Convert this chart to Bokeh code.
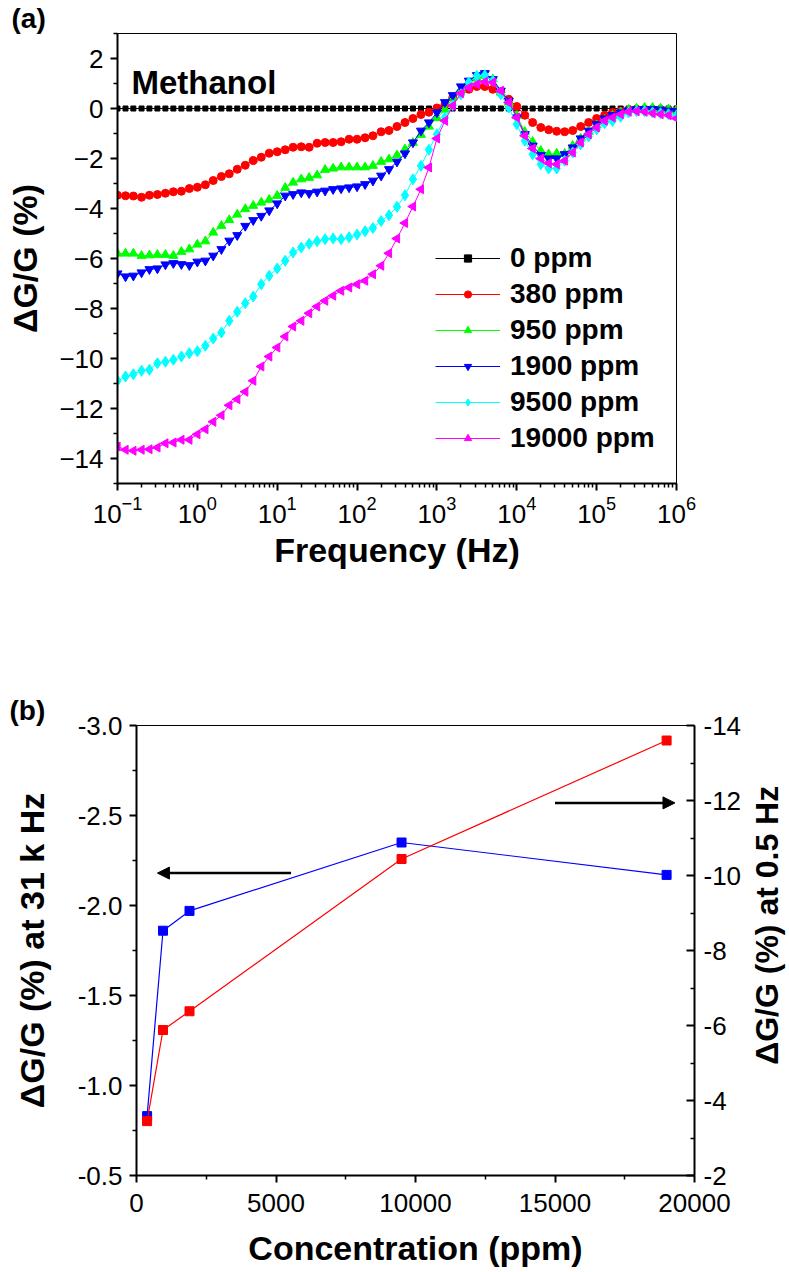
import math
from bokeh.plotting import figure
from bokeh.models import (Range1d, LinearAxis, FixedTicker, Legend, LegendItem, Label,
                          Arrow, NormalHead, PrintfTickFormatter, LogTickFormatter)
from bokeh.layouts import column, row
from bokeh.embed import file_html
from bokeh.resources import INLINE

# ---------------- data: panel (a) ----------------
freq = [1e-1, 1.26e-1, 1.58e-1, 2e-1, 2.51e-1, 3.16e-1, 3.98e-1, 5.01e-1, 6.31e-1, 7.94e-1,
        1e0, 1.26e0, 1.58e0, 2e0, 2.51e0, 3.16e0, 3.98e0, 5.01e0, 6.31e0, 7.94e0,
        1e1, 1.26e1, 1.58e1, 2e1, 2.51e1, 3.16e1, 3.98e1, 5.01e1, 6.31e1, 7.94e1,
        1e2, 1.26e2, 1.58e2, 2e2, 2.51e2, 3.16e2, 3.98e2, 5.01e2, 6.31e2, 7.94e2,
        1e3, 1.26e3, 1.58e3, 2e3, 2.51e3, 3.16e3, 3.98e3, 5.01e3, 6.31e3, 7.94e3,
        1e4, 1.26e4, 1.58e4, 2e4, 2.51e4, 3.16e4, 3.98e4, 5.01e4, 6.31e4, 7.94e4,
        1e5, 1.26e5, 1.58e5, 2e5, 2.51e5, 3.16e5, 3.98e5, 5.01e5, 6.31e5, 7.94e5,
        1e6]

g_0ppm = [0.0, 0.0, 0.0, 0.0, 0.0, 0.0, 0.0, 0.0, 0.0, 0.0,
          0.0, 0.0, 0.0, 0.0, 0.0, 0.0, 0.0, 0.0, 0.0, 0.0,
          0.0, 0.0, 0.0, 0.0, 0.0, 0.0, 0.0, 0.0, 0.0, 0.0,
          0.0, 0.0, 0.0, 0.0, 0.0, 0.0, 0.0, 0.0, 0.0, 0.0,
          0.0, 0.0, 0.0, 0.0, 0.0, 0.0, 0.0, 0.0, 0.0, 0.0,
          0.0, 0.0, 0.0, 0.0, 0.0, 0.0, 0.0, 0.0, 0.0, 0.0,
          0.0, 0.0, 0.0, 0.0, 0.0, 0.0, 0.0, 0.0, 0.0, 0.0,
          0.0]

g_380ppm = [-3.47, -3.49, -3.50, -3.55, -3.47, -3.44, -3.39, -3.33, -3.31, -3.20,
            -3.15, -3.05, -2.88, -2.72, -2.61, -2.43, -2.27, -2.08, -1.95, -1.79,
            -1.73, -1.65, -1.55, -1.53, -1.55, -1.39, -1.36, -1.36, -1.33, -1.23,
            -1.23, -1.17, -1.09, -0.93, -0.88, -0.72, -0.56, -0.40, -0.24, -0.15,
            0.02, 0.15, 0.44, 0.64, 0.77, 0.88, 0.88, 0.77, 0.64, 0.37,
            0.08, -0.27, -0.56, -0.76, -0.85, -0.91, -0.93, -0.88, -0.72, -0.56,
            -0.40, -0.27, -0.16, -0.11, -0.07, -0.03, -0.03, -0.03, -0.05, -0.08,
            -0.10]

g_950ppm = [-5.80, -5.80, -5.80, -5.89, -5.87, -5.85, -5.85, -5.89, -5.73, -5.63,
            -5.44, -5.31, -4.96, -4.69, -4.46, -4.24, -4.02, -3.89, -3.76, -3.65,
            -3.49, -3.17, -2.96, -2.83, -2.77, -2.67, -2.45, -2.40, -2.35, -2.35,
            -2.35, -2.35, -2.29, -2.13, -2.03, -1.87, -1.63, -1.37, -1.05, -0.72,
            -0.38, -0.04, 0.44, 0.77, 1.04, 1.20, 1.31, 1.17, 0.64, 0.24,
            -0.29, -0.93, -1.33, -1.69, -1.83, -1.80, -1.81, -1.49, -1.20, -0.93,
            -0.67, -0.45, -0.29, -0.16, -0.05, 0.00, 0.03, 0.03, 0.00, -0.03,
            -0.07]

g_1900ppm = [-6.60, -6.72, -6.69, -6.56, -6.43, -6.40, -6.24, -6.19, -6.23, -6.27,
             -6.13, -6.09, -5.89, -5.63, -5.29, -5.07, -4.70, -4.47, -4.30, -4.08,
             -3.80, -3.49, -3.43, -3.36, -3.39, -3.33, -3.29, -3.23, -3.20, -3.16,
             -3.12, -3.03, -2.89, -2.69, -2.43, -2.13, -1.80, -1.36, -0.89, -0.56,
             -0.16, 0.25, 0.53, 0.88, 1.11, 1.33, 1.41, 1.17, 0.71, 0.31,
             -0.36, -1.03, -1.49, -1.87, -2.00, -2.00, -1.83, -1.56, -1.20, -0.89,
             -0.63, -0.40, -0.27, -0.16, -0.08, -0.03, -0.03, -0.03, -0.05, -0.09,
             -0.11]

g_9500ppm = [-10.89, -10.72, -10.63, -10.49, -10.45, -10.19, -10.13, -10.05, -9.92, -9.79,
             -9.71, -9.49, -9.20, -8.96, -8.49, -8.13, -7.79, -7.52, -7.03, -6.69,
             -6.40, -6.09, -5.76, -5.56, -5.41, -5.31, -5.23, -5.20, -5.23, -5.15,
             -5.04, -4.91, -4.78, -4.50, -4.27, -3.93, -3.47, -2.83, -2.29, -1.65,
             -1.03, -0.36, 0.13, 0.57, 1.04, 1.31, 1.33, 1.11, 0.57, 0.04,
             -0.63, -1.29, -1.83, -2.23, -2.40, -2.40, -2.09, -1.76, -1.43, -1.12,
             -0.83, -0.59, -0.50, -0.33, -0.16, -0.11, -0.11, -0.16, -0.19, -0.23,
             -0.27]

g_19000ppm = [-13.52, -13.65, -13.69, -13.65, -13.63, -13.56, -13.39, -13.36, -13.25, -13.25,
              -13.03, -12.83, -12.53, -12.27, -11.87, -11.63, -11.33, -10.89, -10.32, -9.92,
              -9.56, -9.12, -8.72, -8.49, -8.19, -7.92, -7.69, -7.49, -7.29, -7.16,
              -7.03, -6.89, -6.63, -6.29, -5.79, -5.20, -4.58, -3.92, -3.23, -2.36,
              -1.20, -0.49, 0.11, 0.61, 0.84, 0.97, 1.07, 1.04, 0.71, 0.24,
              -0.36, -1.09, -1.60, -2.00, -2.19, -2.23, -2.09, -1.76, -1.36, -1.03,
              -0.76, -0.49, -0.36, -0.23, -0.13, -0.11, -0.13, -0.19, -0.23, -0.27,
              -0.40]

series_labels = ["0 ppm", "380 ppm", "950 ppm", "1900 ppm", "9500 ppm", "19000 ppm"]

# ---------------- data: panel (b) ----------------
conc_ppm = [380, 950, 1900, 9500, 19000]
g_at_31kHz = [-0.83, -1.86, -1.97, -2.35, -2.17]
g_at_0p5Hz = [-3.45, -5.88, -6.38, -10.44, -13.60]

# tick values
xa_major = [1e-1, 1e0, 1e1, 1e2, 1e3, 1e4, 1e5, 1e6]
ya_major = [-14, -12, -10, -8, -6, -4, -2, 0, 2]
ya_minor = [-15, -13, -11, -9, -7, -5, -3, -1, 1, 3]
xb_major = [0, 5000, 10000, 15000, 20000]
xb_minor = [2500, 7500, 12500, 17500]
yb_left_major = [-3.0, -2.5, -2.0, -1.5, -1.0, -0.5]
yb_left_minor = [-2.75, -2.25, -1.75, -1.25, -0.75]
yb_right_major = [-14, -12, -10, -8, -6, -4, -2]
yb_right_minor = [-13, -11, -9, -7, -5, -3]

# arrow annotations (panel b, in left-axis data units)
arrow_left = dict(x_start=5540, y_start=-2.18, x_end=750, y_end=-2.18)
arrow_right = dict(x_start=15000, y_start=-2.57, x_end=19300, y_end=-2.57)

# ---------------- styling ----------------
FONT = "Liberation Sans"
W = 789
HA = 632
HB = 1272 - HA
WR = 45            # strip that carries the right-hand axis title
WB = W - WR


def style_axis(ax, outward=True):
    ax.axis_line_width = 2
    ax.axis_line_color = "black"
    ax.major_tick_line_width = 2
    ax.minor_tick_line_width = 1.5
    ax.major_tick_line_color = "black"
    ax.minor_tick_line_color = "black"
    if outward:
        ax.major_tick_out, ax.major_tick_in = 7, 0
        ax.minor_tick_out, ax.minor_tick_in = 4, 0
    else:
        ax.major_tick_out, ax.major_tick_in = 0, 8
        ax.minor_tick_out, ax.minor_tick_in = 0, 4
    ax.major_label_text_font = FONT
    ax.major_label_text_font_size = "26px"
    ax.major_label_text_color = "black"
    ax.axis_label_text_font = FONT
    ax.axis_label_text_font_style = "bold"
    ax.axis_label_text_font_size = "34px"
    ax.axis_label_text_color = "black"


def style_title(t, text, offset):
    t.text = text
    t.align = "left"
    t.offset = offset
    t.standoff = 0
    t.text_font = FONT
    t.text_font_style = "bold"
    t.text_font_size = "28px"
    t.text_color = "black"


# ================= panel (a) =================
pa = figure(width=W, height=HA, x_axis_type="log",
            x_range=Range1d(0.1, 1e6), y_range=Range1d(-15, 3),
            output_backend="svg", toolbar_location=None,
            min_border_left=117, min_border_right=W - 676,
            min_border_top=31, min_border_bottom=HA - 483)
pa.xgrid.visible = False
pa.ygrid.visible = False
pa.outline_line_color = "black"
pa.outline_line_width = 1
pa.background_fill_color = "white"
pa.border_fill_color = "white"
style_title(pa.title, "(a)", -106)

xa_minor = [m * d for d in xa_major[:-1] for m in (2, 3, 4, 5, 6, 7, 8, 9)]
pa.xaxis.ticker = FixedTicker(ticks=xa_major, minor_ticks=xa_minor)
pa.xaxis.formatter = LogTickFormatter()
pa.yaxis.ticker = FixedTicker(ticks=ya_major, minor_ticks=ya_minor)
for ax in pa.xaxis + pa.yaxis:
    style_axis(ax)
pa.xaxis.axis_label = "Frequency (Hz)"
pa.yaxis.axis_label = "\u0394G/G (%)"
pa.xaxis.major_label_standoff = 5
pa.xaxis.axis_label_standoff = 5
pa.yaxis.major_label_standoff = 7
pa.yaxis.axis_label_standoff = 12

series = [
    (g_0ppm, "#000000", "square", 5, 0.0),
    (g_380ppm, "#FF0000", "circle", 8, 0.0),
    (g_950ppm, "#00FF00", "triangle", 9, 0.0),
    (g_1900ppm, "#0000FF", "inverted_triangle", 9, 0.0),
    (g_9500ppm, "#00FFFF", "diamond", 11, 0.0),
    (g_19000ppm, "#FF00FF", "triangle", 9, math.pi / 2),
]
items = []
for lab, (vals, col, mk, sz, ang) in zip(series_labels, series):
    rl = pa.line(freq, vals, line_color=col, line_width=1)
    rs = pa.scatter(freq, vals, marker=mk, size=sz, angle=ang,
                    fill_color=col, line_color=col)
    items.append(LegendItem(label=lab, renderers=[rl, rs]))

legend = Legend(items=items, location=(318, 27), orientation="vertical",
                padding=0, margin=0, spacing=0, label_height=36, glyph_height=18,
                glyph_width=65, label_standoff=10,
                border_line_alpha=0, background_fill_alpha=0,
                label_text_font=FONT, label_text_font_style="bold",
                label_text_font_size="28px", label_text_color="black")
pa.add_layout(legend)

pa.add_layout(Label(x=0.1, y=3, x_offset=14, y_offset=-49, text="Methanol",
                    text_font=FONT, text_font_style="bold", text_font_size="33px",
                    text_color="black", text_baseline="alphabetic"))

# ================= panel (b) =================
yb_left_range = Range1d(-0.5, -3.0)
pb = figure(width=WB, height=HB,
            x_range=Range1d(0, 20000), y_range=yb_left_range,
            output_backend="svg", toolbar_location=None,
            min_border_left=136, min_border_right=WB - 694,
            min_border_top=725 - HA, min_border_bottom=HB - (1175 - HA))
pb.xgrid.visible = False
pb.ygrid.visible = False
pb.outline_line_color = "black"
pb.outline_line_width = 1
pb.background_fill_color = "white"
pb.border_fill_color = "white"
style_title(pb.title, "(b)", -127)
pb.extra_y_ranges = {"right": Range1d(-2, -14)}

pb.xaxis.ticker = FixedTicker(ticks=xb_major, minor_ticks=xb_minor)
pb.yaxis.ticker = FixedTicker(ticks=yb_left_major, minor_ticks=yb_left_minor)
pb.yaxis.formatter = PrintfTickFormatter(format="%.1f")
for ax in pb.xaxis + pb.yaxis:
    style_axis(ax)
pb.xaxis.axis_label = "Concentration (ppm)"
pb.yaxis.axis_label = "\u0394G/G (%) at 31 k Hz"
pb.xaxis.major_label_standoff = 11
pb.xaxis.axis_label_standoff = 14
pb.yaxis.major_label_standoff = 7
pb.yaxis.axis_label_standoff = 24

ax_r = LinearAxis(y_range_name="right",
                  ticker=FixedTicker(ticks=yb_right_major, minor_ticks=yb_right_minor),
                  formatter=PrintfTickFormatter(format="%d"))
style_axis(ax_r, outward=False)
ax_r.major_label_standoff = 9
pb.add_layout(ax_r, "right")

pb.line(conc_ppm, g_at_31kHz, line_color="#0000FF", line_width=1.2)
pb.scatter(conc_ppm, g_at_31kHz, marker="square", size=9,
           fill_color="#0000FF", line_color="#0000FF")
pb.line(conc_ppm, g_at_0p5Hz, line_color="#FF0000", line_width=1.2, y_range_name="right")
pb.scatter(conc_ppm, g_at_0p5Hz, marker="square", size=9, y_range_name="right",
           fill_color="#FF0000", line_color="#FF0000")

for arr in (arrow_left, arrow_right):
    pb.add_layout(Arrow(end=NormalHead(size=12, fill_color="black", line_color="black"),
                        line_color="black", line_width=2.5, **arr))

# narrow strip to the right of panel (b) holding the right axis title
pr = figure(width=WR, height=HB, x_range=Range1d(0, WR), y_range=yb_left_range,
            x_axis_location=None, y_axis_location=None,
            output_backend="svg", toolbar_location=None,
            min_border_left=0, min_border_right=0,
            min_border_top=725 - HA, min_border_bottom=HB - (1175 - HA))
pr.xgrid.visible = False
pr.ygrid.visible = False
pr.outline_line_color = None
pr.background_fill_color = "white"
pr.border_fill_color = "white"
pr.add_layout(Label(x=22, y=-1.89, text="\u0394G/G (%) at 0.5 Hz", angle=math.pi / 2,
                    text_align="center", text_baseline="middle",
                    text_font=FONT, text_font_style="bold", text_font_size="32px",
                    text_color="black"))

layout = column(row(pa), row(pb, pr), spacing=0)
open("out.html", "w").write(file_html(layout, INLINE))
